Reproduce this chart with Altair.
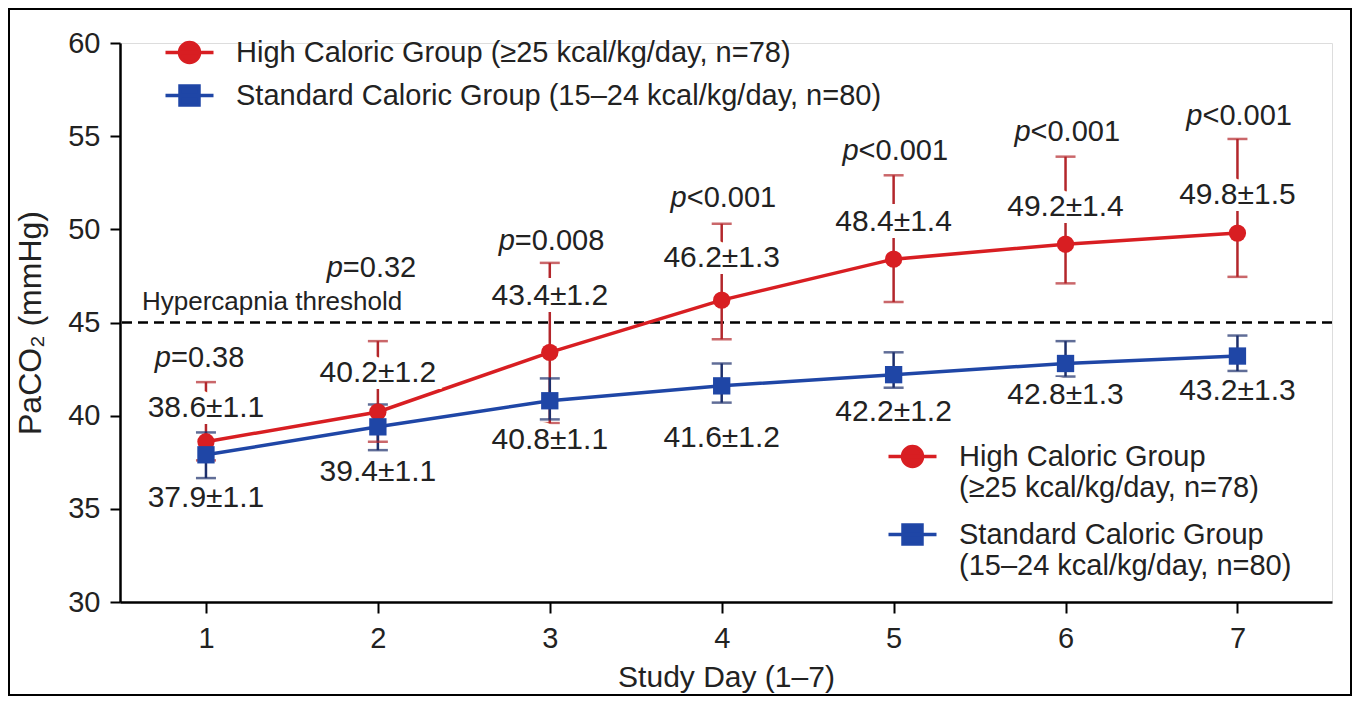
import altair as alt
import pandas as pd

days = [1, 2, 3, 4, 5, 6, 7]
groups = ["High Caloric Group (≥25 kcal/kg/day, n=78)",
          "Standard Caloric Group (15–24 kcal/kg/day, n=80)"]
groups_two_line = ["High Caloric Group|(≥25 kcal/kg/day, n=78)",
                   "Standard Caloric Group|(15–24 kcal/kg/day, n=80)"]

high_mean = [38.6, 40.2, 43.4, 46.2, 48.4, 49.2, 49.8]
high_se = [1.1, 1.2, 1.2, 1.3, 1.4, 1.4, 1.5]
high_lo = [37.6, 38.6, 39.6, 44.1, 46.1, 47.1, 47.45]
high_hi = [41.8, 44.0, 48.2, 50.3, 52.9, 53.9, 54.85]

std_mean = [37.9, 39.4, 40.8, 41.6, 42.2, 42.8, 43.2]
std_se = [1.1, 1.1, 1.1, 1.2, 1.2, 1.3, 1.3]
std_lo = [36.65, 38.15, 39.8, 40.7, 41.5, 42.1, 42.4]
std_hi = [39.1, 40.6, 42.0, 42.8, 43.4, 44.0, 44.3]

p_values = ["=0.38", "=0.32", "=0.008", "<0.001", "<0.001", "<0.001", "<0.001"]

# annotation heights (in mmHg)
p_anchor = [43.1, 47.9, 49.4, 51.7, 54.2, 55.2, 56.1]
high_label_at = [40.4, 42.3, 46.4, 48.45, 50.4, 51.2, 51.85]
std_label_at = [35.6, 37.0, 38.7, 38.8, 40.2, 41.1, 41.3]

threshold = 45

FONT = "Liberation Sans"
TXT = "#222222"
RED, RED_BAR = "#d81e22", "#b3262b"
BLUE, BLUE_BAR = "#1f46a6", "#1d2f6b"

rows = []
for i, d in enumerate(days):
    rows.append(dict(day=d, group=groups[0], group2=groups_two_line[0], mean=high_mean[i],
                     lo=high_lo[i], hi=high_hi[i], lab_y=high_label_at[i],
                     label=f"{high_mean[i]}±{high_se[i]}"))
    rows.append(dict(day=d, group=groups[1], group2=groups_two_line[1], mean=std_mean[i],
                     lo=std_lo[i], hi=std_hi[i], lab_y=std_label_at[i],
                     label=f"{std_mean[i]}±{std_se[i]}"))
df = pd.DataFrame(rows)
pdf = pd.DataFrame(dict(day=days, p=p_values, y=p_anchor))

xs = alt.Scale(domain=[0.5, 7.55], nice=False, zero=False)
ys = alt.Scale(domain=[30, 60], nice=False, zero=False)
X = alt.X("day:Q", scale=xs, title="Study Day (1–7)",
          axis=alt.Axis(values=days, format="d", grid=False, domainColor="black", domainWidth=2.5,
                        tickColor="black", tickWidth=2, tickSize=11, labelFontSize=29,
                        labelPadding=11, titleFontSize=30, titlePadding=9, labelColor=TXT,
                        titleColor=TXT, titleFontWeight="normal", labelFont=FONT, titleFont=FONT))
Y = alt.Y("mean:Q", scale=ys, title="PaCO₂ (mmHg)",
          axis=alt.Axis(values=[30, 35, 40, 45, 50, 55, 60], grid=False, domainColor="black",
                        domainWidth=2.5, tickColor="black", tickWidth=2, tickSize=10,
                        labelFontSize=29, labelPadding=10, titleFontSize=32, titlePadding=20,
                        labelColor=TXT, titleColor=TXT, titleFontWeight="normal",
                        labelFont=FONT, titleFont=FONT))

color_scale = alt.Scale(domain=groups, range=[RED, BLUE])
bar_scale = alt.Scale(domain=groups, range=[RED_BAR, BLUE_BAR])

# legend symbols: a short line with a marker (custom symbol paths)
circle_path = "M-2.4,0H2.4M-1,0A1,1 0 1,0 1,0A1,1 0 1,0 -1,0Z"
square_path = "M-2.4,0H2.4M-0.95,-0.95H0.95V0.95H-0.95Z"

legend_top = alt.Legend(orient="none", legendX=55, legendY=-5, title=None, padding=0,
                        symbolSize=400, symbolStrokeWidth=3.5, labelFontSize=29, labelFont=FONT,
                        labelColor=TXT, labelOffset=32, rowPadding=9, labelLimit=900)
legend_bottom = alt.Legend(orient="none", legendX=778, legendY=399, title=None, padding=0,
                           symbolSize=400, symbolStrokeWidth=3.5, labelFontSize=29, labelFont=FONT,
                           labelColor=TXT, labelOffset=32, rowPadding=15, labelLimit=900,
                           labelExpr="split(datum.label, '|')", labelBaseline="middle")


def legend_layer(field, domain, legend):
    return alt.Chart(df).transform_filter("false").mark_point(filled=True, opacity=1).encode(
        x="day:Q", y="mean:Q",
        fill=alt.Fill(f"{field}:N", scale=alt.Scale(domain=domain, range=[RED, BLUE]), legend=legend),
        stroke=alt.Stroke(f"{field}:N", scale=alt.Scale(domain=domain, range=[RED, BLUE]), legend=legend),
        shape=alt.Shape(f"{field}:N", scale=alt.Scale(domain=domain, range=[circle_path, square_path]),
                        legend=legend),
    )


base = alt.Chart(df)

thr = alt.Chart(pd.DataFrame({"y": [threshold]})).mark_rule(
    color="black", strokeWidth=2.5, strokeDash=[10, 6]).encode(y=alt.Y("y:Q", scale=ys))
thr_text = alt.Chart(pd.DataFrame({"x": [0.5], "y": [threshold], "t": ["Hypercapnia threshold"]})).mark_text(
    align="left", baseline="bottom", dx=22, dy=-8, fontSize=26, font=FONT, color=TXT
).encode(x=alt.X("x:Q", scale=xs), y=alt.Y("y:Q", scale=ys), text="t:N")

lines = base.mark_line(strokeWidth=3.5).encode(
    x=X, y=Y, color=alt.Color("group:N", scale=color_scale, legend=None), detail="group:N")
bars = base.mark_rule(strokeWidth=2.5).encode(
    x="day:Q", y=alt.Y("lo:Q", scale=ys), y2="hi:Q",
    color=alt.Color("group:N", scale=bar_scale, legend=None))
cap_hi = base.mark_tick(orient="horizontal", thickness=2.5, size=20).encode(
    x="day:Q", y=alt.Y("hi:Q", scale=ys), color=alt.Color("group:N", scale=bar_scale, legend=None))
cap_lo = base.mark_tick(orient="horizontal", thickness=2.5, size=20).encode(
    x="day:Q", y=alt.Y("lo:Q", scale=ys), color=alt.Color("group:N", scale=bar_scale, legend=None))

pts = base.mark_point(filled=True, opacity=1, size=300).encode(
    x="day:Q", y="mean:Q",
    color=alt.Color("group:N", scale=color_scale, legend=None),
    shape=alt.Shape("group:N", scale=alt.Scale(domain=groups, range=["circle", "square"]), legend=None))

halo = base.mark_text(fontSize=30, font=FONT, stroke="white", strokeWidth=14,
                      fill="white", baseline="middle").encode(
    x="day:Q", y=alt.Y("lab_y:Q", scale=ys), text="label:N")
vals = base.mark_text(fontSize=30, font=FONT, color=TXT, baseline="middle").encode(
    x="day:Q", y=alt.Y("lab_y:Q", scale=ys), text="label:N")

p_italic = alt.Chart(pdf).mark_text(fontSize=29, font=FONT, fontStyle="italic", align="right",
                                    dx=-35, baseline="middle", color=TXT).encode(
    x=alt.X("day:Q", scale=xs), y=alt.Y("y:Q", scale=ys), text=alt.value("p"))
p_rest = alt.Chart(pdf).mark_text(fontSize=29, font=FONT, align="left", dx=-35,
                                  baseline="middle", color=TXT).encode(
    x=alt.X("day:Q", scale=xs), y=alt.Y("y:Q", scale=ys), text="p:N")

frame = alt.Chart(pd.DataFrame({"k": [0]})).mark_rect(
    fill=None, stroke="black", strokeWidth=2, clip=False).encode(
    x=alt.value(-111), x2=alt.value(1231), y=alt.value(-34), y2=alt.value(652))

chart = alt.layer(
    frame, thr, thr_text, lines, bars, cap_hi, cap_lo, pts, halo, vals, p_italic, p_rest,
    legend_layer("group", groups, legend_top),
    legend_layer("group2", groups_two_line, legend_bottom),
).resolve_scale(color="independent", fill="independent", stroke="independent",
                shape="independent").properties(
    width=1212, height=559, autosize="none",
    padding={"left": 112, "top": 35, "right": 20, "bottom": 94},
).configure_view(stroke=None).configure(background="white")

chart.save("out.html", embed_options={"renderer": "svg", "actions": False})
